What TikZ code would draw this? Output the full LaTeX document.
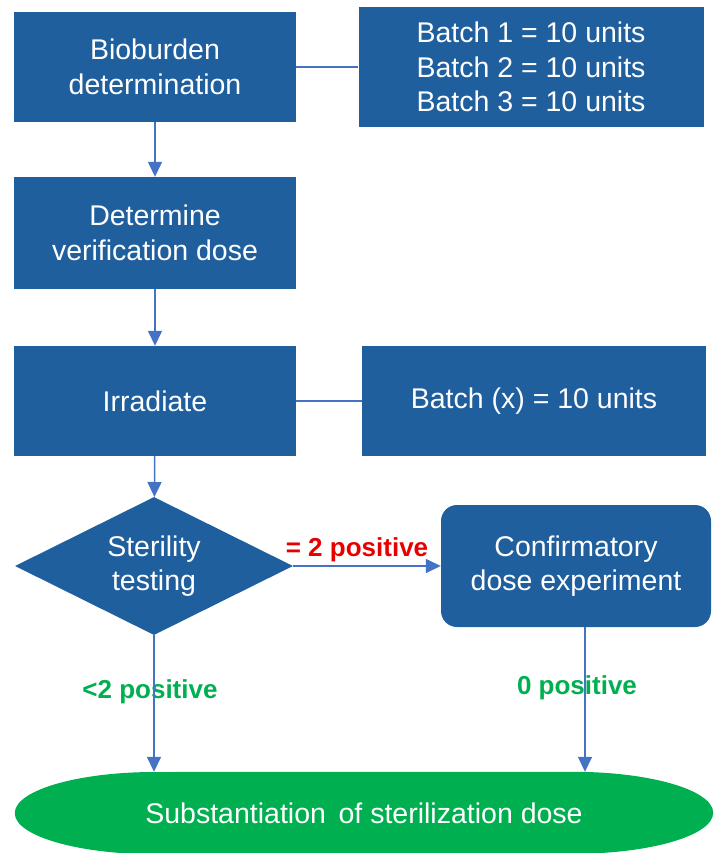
\documentclass[tikz,border=0pt]{standalone}
\usepackage{fontspec}
\setmainfont{Liberation Sans}
\usetikzlibrary{shapes.geometric, arrows.meta, positioning, backgrounds}
\definecolor{boxblue}{HTML}{1F5F9E}
\definecolor{lineblue}{HTML}{4472C4}
\definecolor{okgreen}{HTML}{00B050}
\definecolor{failred}{HTML}{E60000}
\tikzset{
	box/.style={rectangle, fill=boxblue, text=white, align=center, minimum width=282pt, minimum height=110pt, font=\fontsize{28.5}{34.5}\selectfont},
	decision/.style={diamond, aspect=2, fill=boxblue, text=white, align=center, inner sep=0pt, minimum width=278pt, minimum height=138pt, font=\fontsize{28.5}{34.5}\selectfont},
	lbl/.style={inner sep=1pt, font=\bfseries\fontsize{26}{30}\selectfont},
	arrow/.style={line width=1.5pt, draw=lineblue, -{Triangle[width=14pt,length=15pt]}},
	link/.style={line width=1.5pt, draw=lineblue}
}
\begin{document}
\begin{tikzpicture}[x=1pt, y=-1pt]
	\useasboundingbox (0,0) rectangle (713,853);
	\clip (0,0) rectangle (713,853);
	
	% Nodes
	\node (bio) [box] at (155,67) {Bioburden\\determination};
	\node (bat) [box, minimum width=345pt, minimum height=120pt] at (531,67) {Batch 1 = 10 units\\Batch 2 = 10 units\\Batch 3 = 10 units};
	\node (det) [box, minimum height=112pt] at (155,233) {Determine\\verification dose};
	\node (irr) [box] at (155,401) {Irradiate};
	\node (batx) [box, minimum width=344pt] at (534,401) {Batch (x) = 10 units};
	\node (st) [decision] at (154,566) {Sterility\\testing};
	\node (conf) [box, rounded corners=16pt, minimum width=270pt, minimum height=122pt] at (576,566) {Confirmatory\\dose experiment};
	\node (sub) [minimum width=698pt, minimum height=82pt, text=white, font=\fontsize{28.5}{34.5}\selectfont] at (364,813) {Substantiation\,\ of sterilization dose};
	\begin{pgfonlayer}{background}
		\fill [okgreen] (sub.west) arc[start angle=180, end angle=90, x radius=140pt, y radius=41pt]
			-- ([xshift=-140pt]sub.north east) arc[start angle=90, end angle=-90, x radius=140pt, y radius=41pt]
			-- ([xshift=140pt]sub.south west) arc[start angle=270, end angle=180, x radius=140pt, y radius=41pt] -- cycle;
	\end{pgfonlayer}
	
	% Labels
	\node (less) [lbl, text=okgreen] at (150,692) {<2 positive};
	\node (zero) [lbl, text=okgreen] at (577,688) {0 positive};
	
	% Arrows
	\draw [link] (bio) -- (bat);
	\draw [link] (irr) -- (batx);
	\draw [arrow] (bio) -- (det);
	\draw [arrow] (det) -- (irr);
	\draw [arrow] (irr) -- (st);
	\draw [arrow] (st) -- (conf) node[midway, above, lbl, text=failred, xshift=-10pt, inner sep=3pt] {= 2 positive};
	\draw [arrow] (st.south) -- (st.south |- sub.north);
	\draw [arrow] ([xshift=9pt]conf.south) -- ([xshift=9pt]conf.south |- sub.north);
\end{tikzpicture}
\end{document}
